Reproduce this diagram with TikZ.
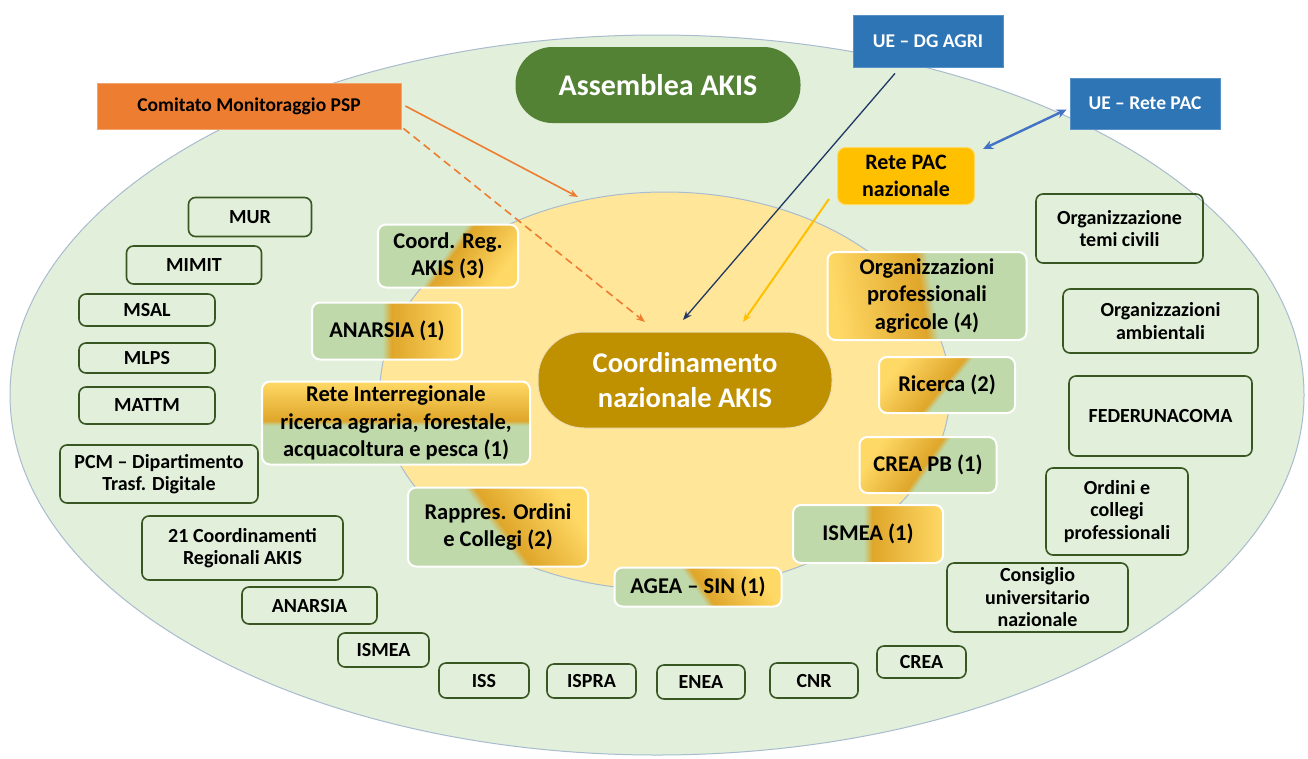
\documentclass[tikz,border=0pt]{standalone}
\usepackage{fontspec}
\setmainfont{Carlito}
\usetikzlibrary{arrows.meta}
\definecolor{bgG}{HTML}{E2EFDA}
\definecolor{ellB}{HTML}{A9BCCF}
\definecolor{inY}{HTML}{FFE699}
\definecolor{boxG}{HTML}{385723}
\definecolor{asG}{HTML}{548235}
\definecolor{coG}{HTML}{BF9000}
\definecolor{orA}{HTML}{ED7D31}
\definecolor{blU}{HTML}{2E75B6}
\definecolor{blL}{HTML}{4472C4}
\definecolor{cNavy}{HTML}{203864}
\definecolor{cGold}{HTML}{FFC000}
\definecolor{shG}{HTML}{BFD9AA}
\definecolor{shD}{HTML}{DFA62A}
\definecolor{shL}{HTML}{FFD966}
\pgfdeclarehorizontalshading{gg}{100bp}{color(0bp)=(shG); color(25bp)=(shG); color(48.5bp)=(shG); color(51.5bp)=(shD); color(75bp)=(shL); color(100bp)=(shL)}
\tikzset{
  obox/.style={draw=boxG, line width=1.6pt, rounded corners=7pt, align=center,
    font=\fontsize{20}{22.5}\selectfont\bfseries, text=black, inner sep=0pt},
  ibox/.style={draw=white, line width=2pt, rounded corners=8pt, shade, shading=gg, align=center,
    font=\fontsize{22.5}{27.5}\selectfont\bfseries, text=black, inner sep=0pt},
  uebox/.style={fill=blU, draw=blU!80!white, line width=0.8pt, text=white, align=center,
    font=\fontsize{19.5}{23}\selectfont\bfseries, inner sep=0pt},
  arr/.style={line width=1.6pt, -{Stealth[length=9pt,width=7pt]}},
}
\begin{document}
\begin{tikzpicture}[x=1pt,y=-1pt]
\useasboundingbox (0,0) rectangle (1308,758);
\fill[white] (0,0) rectangle (1308,758);
% background ellipses
\draw[fill=bgG, draw=ellB, line width=1pt] (657,395) ellipse [x radius=647, y radius=360];
\draw[fill=inY, draw=ellB, line width=1pt] (665,391) ellipse [x radius=285, y radius=199];

% top nodes
\node[fill=asG, rounded corners=37pt, minimum width=285, minimum height=76, inner sep=0pt,
  text=white, font=\fontsize{30}{34}\selectfont\bfseries] (ass) at (658,85) {Assemblea AKIS};
\node[fill=orA, draw=orA!70!white, line width=0.8pt, minimum width=304, minimum height=46, inner sep=0pt,
  text=black, font=\fontsize{19.5}{23}\selectfont\bfseries] (com) at (249,106) {Comitato Monitoraggio PSP};
\node[uebox, minimum width=150, minimum height=52] (dg) at (928,41) {UE – DG AGRI};
\node[uebox, minimum width=150, minimum height=51] (uerp) at (1145,103.5) {UE – Rete PAC};
\node[fill=cGold, draw=cGold!60!white, line width=1pt, rounded corners=8pt, minimum width=137, minimum height=57,
  inner sep=0pt, align=center, text=black, font=\fontsize{22}{27}\selectfont\bfseries] (rp) at (906,176) {Rete PAC\\nazionale};
\node[fill=coG, draw=white!70!coG, line width=1pt, rounded corners=46pt, minimum width=294, minimum height=96,
  inner sep=0pt, align=center, text=white, font=\fontsize{28.5}{35}\selectfont\bfseries] (cn) at (685,380) {Coordinamento\\nazionale AKIS};

% inner boxes
\node[ibox, shading angle=-36, minimum width=140, minimum height=63] (crg) at (448,256) {Coord. Reg.\\AKIS (3)};
\node[ibox, shading angle=0, minimum width=150, minimum height=57] (an1) at (387,331) {ANARSIA (1)};
\node[ibox, shading angle=90, minimum width=268, minimum height=83] (rir) at (396,423) {Rete Interregionale\\ricerca agraria, forestale,\\acquacoltura e pesca (1)};
\node[ibox, shading angle=36, minimum width=180, minimum height=79] (roc) at (498,527) {Rappres. Ordini\\e Collegi (2)};
\node[ibox, shading angle=34, minimum width=167, minimum height=39] (agea) at (698,587) {AGEA – SIN (1)};
\node[ibox, shading angle=188, minimum width=199, minimum height=88] (opa) at (927,296) {Organizzazioni\\professionali\\agricole (4)};
\node[ibox, shading angle=141, minimum width=136, minimum height=56] (ric) at (947,385) {Ricerca (2)};
\node[ibox, shading angle=145, minimum width=137, minimum height=56] (cpb) at (928,465) {CREA PB (1)};
\node[ibox, shading angle=0, minimum width=150, minimum height=58] (ism1) at (868,534) {ISMEA (1)};

% outer boxes left
\node[obox, minimum width=123, minimum height=39] (mur) at (250,217) {MUR};
\node[obox, minimum width=135, minimum height=38] (mimit) at (194,265) {MIMIT};
\node[obox, minimum width=136, minimum height=32] (msal) at (147,310) {MSAL};
\node[obox, minimum width=136, minimum height=30] (mlps) at (147,358) {MLPS};
\node[obox, minimum width=136, minimum height=37] (mattm) at (147,405.5) {MATTM};
\node[obox, minimum width=198, minimum height=58] (pcm) at (159,474) {PCM – Dipartimento\\Trasf. Digitale};
\node[obox, minimum width=201, minimum height=64] (c21) at (242.5,548) {21 Coordinamenti\\Regionali AKIS};
\node[obox, minimum width=135, minimum height=37] (anar) at (309.5,605.5) {ANARSIA};
\node[obox, minimum width=91, minimum height=34] (isme) at (383.5,650) {ISMEA};
\node[obox, minimum width=90, minimum height=35] (iss) at (484,680.5) {ISS};
\node[obox, minimum width=89, minimum height=34] (ispra) at (591.5,681) {ISPRA};
\node[obox, minimum width=88, minimum height=34] (enea) at (701,682) {ENEA};
\node[obox, minimum width=88, minimum height=35] (cnr) at (814,680.5) {CNR};
\node[obox, minimum width=89, minimum height=32] (crea) at (921.5,662) {CREA};
\node[obox, minimum width=181, minimum height=69] (cun) at (1037.5,597.5) {Consiglio\\universitario\\nazionale};
% outer boxes right
\node[obox, minimum width=167, minimum height=69] (otc) at (1119.5,228.5) {Organizzazione\\temi civili};
\node[obox, minimum width=195, minimum height=64] (oam) at (1160.5,321) {Organizzazioni\\ambientali};
\node[obox, minimum width=183, minimum height=80] (fed) at (1160.5,416) {FEDERUNACOMA};
\node[obox, minimum width=142, minimum height=87] (ocp) at (1117,511.5) {Ordini e\\collegi\\professionali};

% arrow targets
\coordinate (t1) at (578,197);
\coordinate (t2) at (645,322);
\coordinate (t3) at (683,320);
\coordinate (t4) at (743,322);

% connectors
\draw[arr, orA] ([xshift=4pt]com.east) -- (t1);
\draw[arr, orA, dash pattern=on 8pt off 5pt] ([xshift=2pt,yshift=1pt]com.south east) -- (t2);
\draw[arr, cNavy, line width=1.3pt] ([xshift=-33pt,yshift=-6pt]dg.south) -- (t3);
\draw[arr, cGold, line width=2pt] ([xshift=-8pt,yshift=6pt]rp.south west) -- (t4);
\draw[line width=2.4pt, blL, {Stealth[length=10pt,width=9pt]}-{Stealth[length=10pt,width=9pt]}]
  ([xshift=8pt,yshift=-2pt]rp.north east) -- ([xshift=-3pt,yshift=-6pt]uerp.west);
\end{tikzpicture}
\end{document}
